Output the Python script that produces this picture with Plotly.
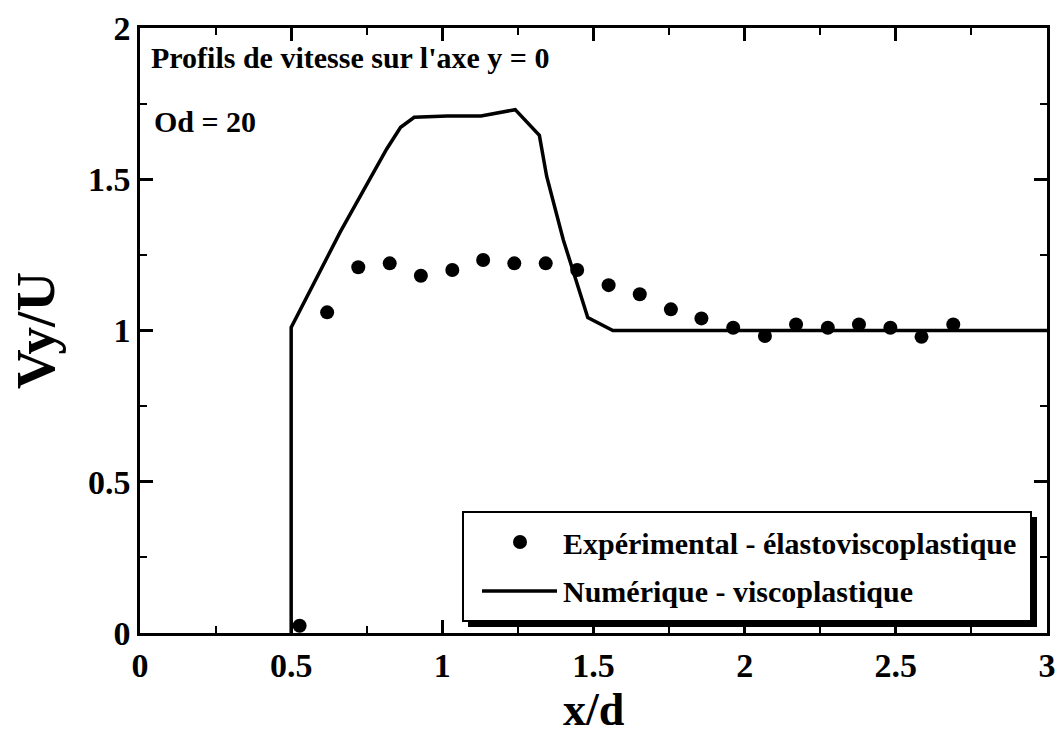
import plotly.graph_objects as go

# Experimental velocity profile (elasto-viscoplastic fluid), y = 0 axis
exp_x = [0.528, 0.619, 0.722, 0.826, 0.929, 1.033, 1.135, 1.238, 1.342, 1.446, 1.55,
         1.653, 1.756, 1.857, 1.962, 2.067, 2.17, 2.275, 2.378, 2.482, 2.585, 2.69]
exp_y = [0.024, 1.06, 1.209, 1.222, 1.181, 1.2, 1.233, 1.222, 1.222, 1.2, 1.15,
         1.12, 1.07, 1.04, 1.009, 0.982, 1.02, 1.009, 1.02, 1.009, 0.979, 1.02]

# Numerical velocity profile (viscoplastic fluid)
num_x = [0.5, 0.5, 0.662, 0.816, 0.862, 0.907, 1.017, 1.128, 1.241, 1.321, 1.345, 1.40, 1.481, 1.564, 3.0]
num_y = [0.0, 1.01, 1.325, 1.60, 1.672, 1.705, 1.709, 1.709, 1.73, 1.645, 1.51, 1.30, 1.043, 1.0, 1.0]

x_ticks = [0, 0.5, 1, 1.5, 2, 2.5, 3]
x_tick_text = ["0", "0.5", "1", "1.5", "2", "2.5", "3"]
y_ticks = [0, 0.5, 1, 1.5, 2]
y_tick_text = ["0", "0.5", "1", "1.5", "2"]

x_title = "x/d"
y_title = "Vy/U"
label_exp = "Expérimental - élastoviscoplastique"
label_num = "Numérique - viscoplastique"
note_title = "Profils de vitesse sur l'axe y = 0"
note_od = "Od = 20"

FONT = "Liberation Serif, Times New Roman, serif"
W, H = 1055, 736
L, R, T, B = 140, 8, 28, 103
PW, PH = W - L - R, H - T - B


def px(xp):
    return (xp - L) / PW


def py(yp):
    return (H - B - yp) / PH


fig = go.Figure()
fig.add_trace(go.Scatter(x=num_x, y=num_y, mode="lines",
                         line=dict(color="black", width=3.5),
                         name=label_num, showlegend=False))
fig.add_trace(go.Scatter(x=exp_x, y=exp_y, mode="markers",
                         marker=dict(color="black", size=14, symbol="circle"),
                         name=label_exp, showlegend=False, cliponaxis=False))

axis_common = dict(
    showline=True, linecolor="black", linewidth=2.5, mirror="ticks",
    ticks="inside", ticklen=13, tickwidth=2.5, tickcolor="black",
    showgrid=False, zeroline=False, automargin=False, ticklabeloverflow="allow",
    tickfont=dict(family=FONT, size=34, color="black", weight="bold"),
    minor=dict(ticks="inside", ticklen=7, tickwidth=2, tickcolor="black", dtick=0.25, showgrid=False),
)

fig.update_xaxes(range=[0, 3], tickvals=x_ticks, ticktext=x_tick_text, **axis_common)
fig.update_yaxes(range=[0, 2], tickvals=y_ticks, ticktext=y_tick_text,
                 title=dict(text=y_title, font=dict(family=FONT, size=55, color="black", weight="bold"), standoff=16),
                 **axis_common)

txt_font = dict(family=FONT, size=30, color="black", weight="bold")
annotations = [
    dict(x=0.5, y=py(737), xref="paper", yref="paper", text=x_title,
         showarrow=False, xanchor="center", yanchor="bottom",
         font=dict(family=FONT, size=46, color="black", weight="bold")),
    dict(x=px(149), y=py(58), xref="paper", yref="paper", text=note_title,
         showarrow=False, xanchor="left", yanchor="middle", font=txt_font),
    dict(x=px(152), y=py(121), xref="paper", yref="paper", text=note_od,
         showarrow=False, xanchor="left", yanchor="middle", font=txt_font),
    dict(x=px(561), y=py(543), xref="paper", yref="paper", text=label_exp,
         showarrow=False, xanchor="left", yanchor="middle", font=txt_font),
    dict(x=px(561), y=py(591), xref="paper", yref="paper", text=label_num,
         showarrow=False, xanchor="left", yanchor="middle", font=txt_font),
]

# Legend box with drop shadow, circle and line keys
shapes = [
    dict(type="rect", xref="paper", yref="paper", x0=px(468), x1=px(1037), y0=py(627), y1=py(517),
         fillcolor="black", line=dict(width=0), layer="above"),
    dict(type="rect", xref="paper", yref="paper", x0=px(463), x1=px(1031), y0=py(621), y1=py(512),
         fillcolor="white", line=dict(color="black", width=2), layer="above"),
    dict(type="circle", xref="paper", yref="paper", x0=px(513), x1=px(527), y0=py(549), y1=py(535),
         fillcolor="black", line=dict(width=0), layer="above"),
    dict(type="line", xref="paper", yref="paper", x0=px(482), x1=px(557), y0=py(591), y1=py(591),
         line=dict(color="black", width=3.5), layer="above"),
]

fig.update_layout(
    width=W, height=H,
    margin=dict(l=L, r=R, t=T, b=B),
    paper_bgcolor="white", plot_bgcolor="white",
    annotations=annotations, shapes=shapes,
    showlegend=False,
)

fig.write_html("out.html")
